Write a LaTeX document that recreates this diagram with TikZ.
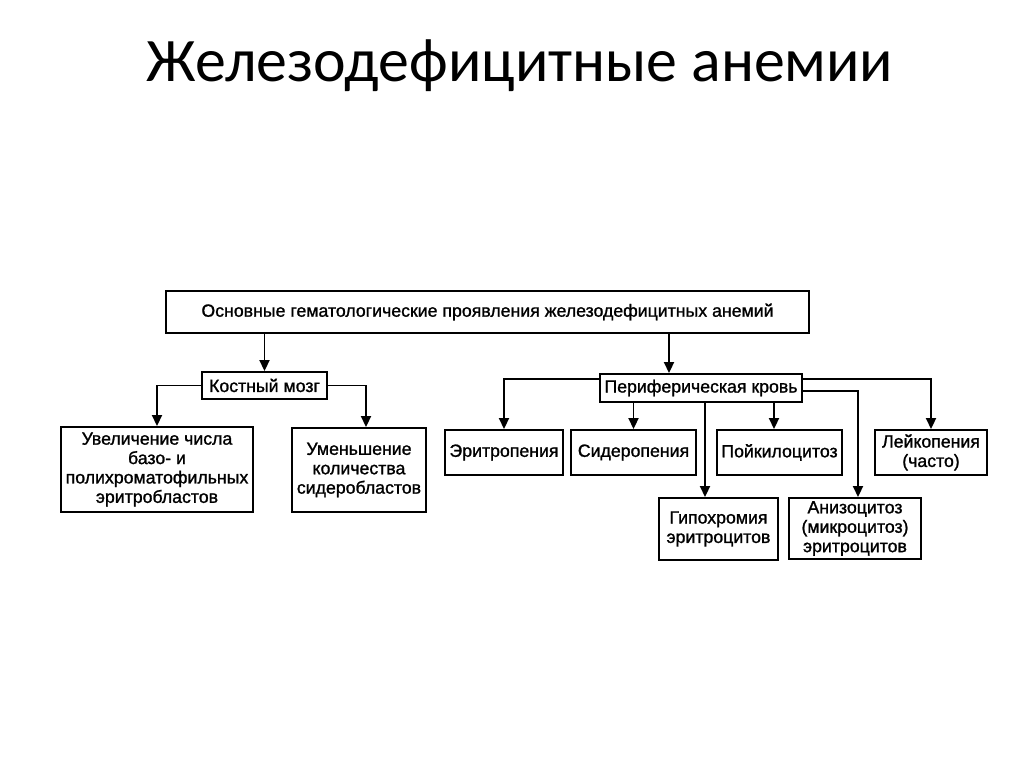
\documentclass[tikz,border=0pt]{standalone}
\usepackage{fontspec}
\setmainfont{Liberation Sans}
\newfontfamily\boxfont{Liberation Sans}[FakeBold=1.2]
\newfontfamily\titlefont{Carlito}
\usepackage{tikz}
\usetikzlibrary{positioning, arrows.meta}

\tikzset{
  box/.style = {draw, line width=1.5pt, inner sep=0pt, align=center,
                font=\boxfont\fontsize{12.6}{13.8}\selectfont},
  arr/.style = {-{Triangle[length=0.27cm, width=0.25cm]}, line width=1.3pt}
}

\begin{document}
\begin{tikzpicture} [node distance = 1cm, on grid]
\useasboundingbox (0,0) rectangle (25.6,-19.175);
\node (title) [anchor=base, font=\titlefont\fontsize{44}{50}\selectfont] at (13.0,-2.05) {Железодефицитные анемии};
\node (main) [box, minimum width=16.075cm, minimum height=1.05cm] at (12.1875,-7.8)
  {Основные гематологические проявления железодефицитных анемий};
% bone marrow
\node (kost) [box, minimum width=3.125cm, minimum height=0.675cm, below left = 1.8375cm and 5.575cm of main] {Костный мозг};
\node (uvel) [box, minimum width=4.8cm, minimum height=2.125cm, below left = 2.1cm and 2.6875cm of kost]
  {Увеличение числа\\базо- и\\полихроматофильных\\эритробластов};
\node (umen) [box, minimum width=3.35cm, minimum height=2.1cm, below right = 2.1125cm and 2.3625cm of kost]
  {Уменьшение\\количества\\сидеробластов};
% peripheral blood
\node (perif) [box, minimum width=5.05cm, minimum height=0.7cm, below right = 1.9cm and 5.3375cm of main] {Периферическая кровь};
\node (eritr) [box, minimum width=2.95cm, minimum height=1.125cm, below left = 1.6125cm and 4.925cm of perif] {Эритропения};
\node (sider) [box, minimum width=3.125cm, minimum height=1.125cm, below left = 1.6125cm and 1.6875cm of perif] {Сидеропения};
\node (poik) [box, minimum width=3.125cm, minimum height=1.125cm, below right = 1.6125cm and 1.9625cm of perif] {Пойкилоцитоз};
\node (leik) [box, minimum width=2.8cm, minimum height=1.125cm, below right = 1.6125cm and 5.75cm of perif] {Лейкопения\\(часто)};
\node (gipo) [box, minimum width=2.975cm, minimum height=1.55cm, below right = 3.525cm and 0.4375cm of perif]
  {Гипохромия\\эритроцитов};
\node (aniz) [box, minimum width=3.3cm, minimum height=1.525cm, below right = 3.5125cm and 3.85cm of perif]
  {Анизоцитоз\\(микроцитоз)\\эритроцитов};

\path [arr]
    (main.south -| kost.north) edge (kost.north)
    ([xshift=-0.8cm]perif.north |- main.south) edge ([xshift=-0.8cm]perif.north)
    (perif.south -| sider.north) edge (sider.north)
    ([xshift=-0.1375cm]perif.south -| poik.north) edge ([xshift=-0.1375cm]poik.north)
    ([xshift=-0.3375cm]gipo.north |- perif.south) edge ([xshift=-0.3375cm]gipo.north);
\draw [arr] (kost.west) -| (uvel.north);
\draw [arr] (kost.east) -| ([xshift=0.175cm]umen.north);
\draw [arr] ([yshift=0.225cm]perif.west) -| (eritr.north);
\draw [arr] ([yshift=0.225cm]perif.east) -| (leik.north);
\draw [arr] ([yshift=-0.075cm]perif.east) -| ([xshift=0.075cm]aniz.north);
\end{tikzpicture}
\end{document}
